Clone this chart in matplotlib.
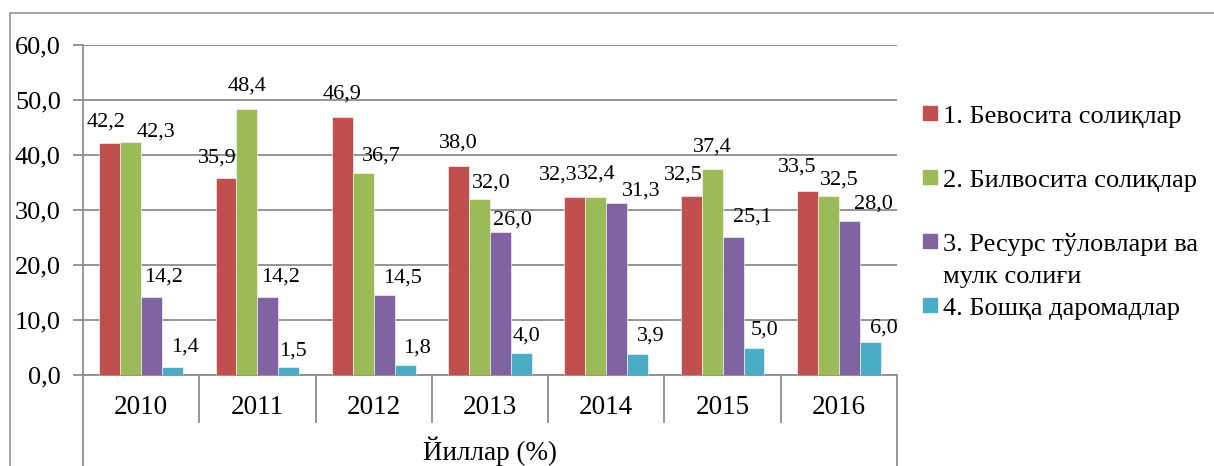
"""Tax revenue structure by year (grouped bars, Excel-style layout)."""
import matplotlib
matplotlib.use("Agg")
import matplotlib.pyplot as plt
import matplotlib.transforms as mtransforms
from matplotlib.patches import Rectangle
import numpy as np

plt.rcParams["font.family"] = ["Liberation Serif", "DejaVu Serif"]

YEARS = ["2010", "2011", "2012", "2013", "2014", "2015", "2016"]
DIRECT = [42.2, 35.9, 46.9, 38.0, 32.3, 32.5, 33.5]
INDIRECT = [42.3, 48.4, 36.7, 32.0, 32.4, 37.4, 32.5]
RESOURCE = [14.2, 14.2, 14.5, 26.0, 31.3, 25.1, 28.0]
OTHER = [1.4, 1.5, 1.8, 4.0, 3.9, 5.0, 6.0]
SERIES_LABELS = [
    "1. Бевосита солиқлар",
    "2. Билвосита солиқлар",
    "3. Ресурс тўловлари ва\nмулк солиғи",
    "4. Бошқа даромадлар",
]
AXIS_TITLE = "Йиллар (%)"

COLORS = ["#C0504D", "#9BBB59", "#8064A2", "#4BACC6"]
GRID = "#8C8C8C"

# label nudges in pixels (dx, dy) from the top centre of each bar
LABEL_NUDGE = [
    [(-4, 21), (-9, 20), (0, 23), (0, 23), (-17, 22), (-8, 21), (-10, 24)],
    [(25, 10), (0, 23), (18, 17), (12, 16), (0, 23), (0, 22), (11, 16)],
    [(12, 20), (13, 20), (18, 17), (12, 12), (24, 12), (19, 20), (24, 17)],
    [(12, 20), (4, 16), (12, 17), (5, 17), (13, 18), (11, 17), (14, 14)],
]

W, H = 1214, 466
fig = plt.figure(figsize=(W / 100, H / 100), dpi=100)
ax = fig.add_axes([83 / W, 1 - 375 / H, (897 - 83) / W, (375 - 45) / H])

# outer chart frame (runs off the right and bottom edges)
fig.patches.append(Rectangle((10 / W, -0.1), 1.2, 1 - 13 / H + 0.1,
                             transform=fig.transFigure, fill=False,
                             edgecolor=GRID, lw=1.1))

series = [DIRECT, INDIRECT, RESOURCE, OTHER]
n = len(YEARS)
bar_w = 0.18
x = np.arange(n)
for i, values in enumerate(series):
    pos = x - 1.5 * bar_w + i * bar_w
    ax.bar(pos, values, width=bar_w, color=COLORS[i], edgecolor="white",
           linewidth=0.4, zorder=3)
    for j, v in enumerate(values):
        dx, dy = LABEL_NUDGE[i][j]
        ax.annotate(f"{v:.1f}".replace(".", ","), (pos[j], v),
                    xytext=(dx, dy), textcoords="offset pixels",
                    ha="center", va="center", fontsize=16, zorder=4)

ax.set_xlim(-0.5, n - 0.5)
ax.set_ylim(0, 60)
ax.set_yticks(np.arange(0, 61, 10))
ax.set_yticklabels([f"{t:.1f}".replace(".", ",") for t in np.arange(0, 61, 10)])
ax.yaxis.grid(True, color=GRID, lw=1.3, zorder=0)
ax.tick_params(axis="y", length=7, width=1.3, color=GRID, pad=9, labelsize=19)
ax.set_xticks([])
for side in ("top", "right"):
    ax.spines[side].set_visible(False)
for side in ("left", "bottom"):
    ax.spines[side].set_color(GRID)
    ax.spines[side].set_linewidth(1.3)

# category boxes below the axis
trans = mtransforms.blended_transform_factory(ax.transData, ax.transAxes)
for k in range(n + 1):
    bottom = -0.5 if k in (0, n) else -47 / 330
    ax.plot([k - 0.5, k - 0.5], [0, bottom], color=GRID, lw=1.3,
            transform=trans, clip_on=False)
for k, year in enumerate(YEARS):
    ax.text(k, -33 / 330, year, transform=trans, ha="center", va="center",
            fontsize=19.5)
fig.text(ax.get_position().x0 + ax.get_position().width / 2, 1 - 460 / H,
         AXIS_TITLE, ha="center", va="baseline", fontsize=19.5)

# legend drawn by hand so the marker sits on the first text line
legend_y = [113, 177, 241, 305]
for color, label, y in zip(COLORS, SERIES_LABELS, legend_y):
    fig.patches.append(Rectangle((923 / W, 1 - (y + 7) / H), 14 / W, 14 / H,
                                 transform=fig.transFigure, color=color))
    for line_no, line in enumerate(label.split("\n")):
        fig.text(943 / W, 1 - (y + 10 + 32 * line_no) / H, line,
                 ha="left", va="baseline", fontsize=19)

fig.savefig("out.png", dpi=100)
